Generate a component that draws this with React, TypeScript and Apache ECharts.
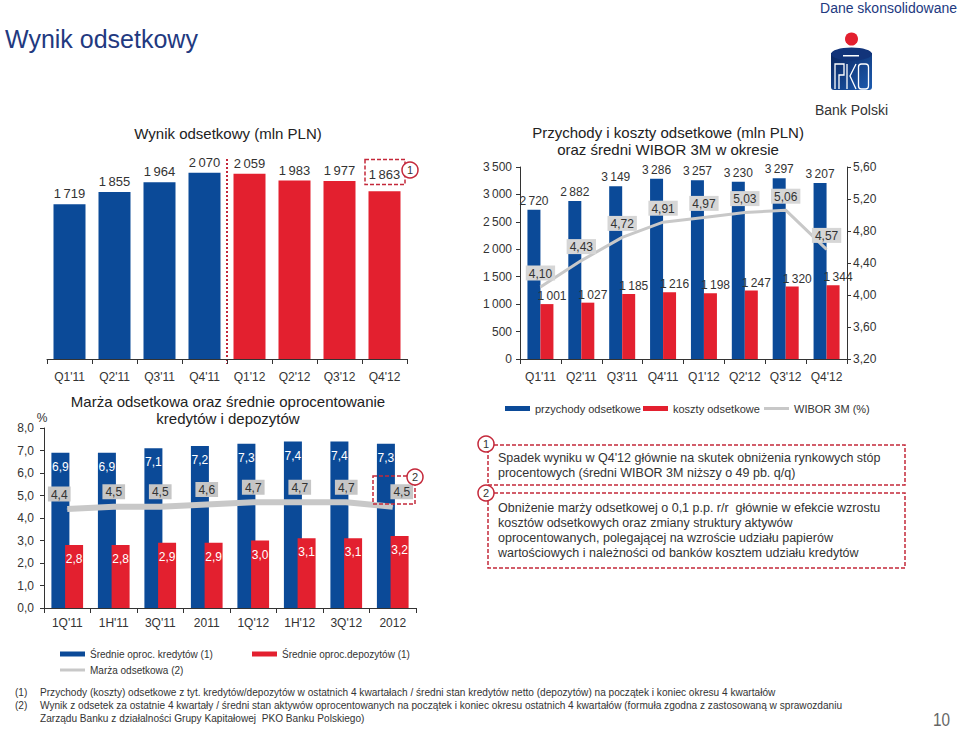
import React, { useEffect, useRef } from "react";
import * as echarts from "echarts";

// ---------- data ----------
const quarters = ["Q1'11", "Q2'11", "Q3'11", "Q4'11", "Q1'12", "Q2'12", "Q3'12", "Q4'12"];
const netInterestIncome = [1719, 1855, 1964, 2070, 2059, 1983, 1977, 1863];
const interestRevenue = [2720, 2882, 3149, 3286, 3257, 3230, 3297, 3207];
const interestCosts = [1001, 1027, 1185, 1216, 1198, 1247, 1320, 1344];
const wibor3m = [4.1, 4.43, 4.72, 4.91, 4.97, 5.03, 5.06, 4.57];

const periods = ["1Q'11", "1H'11", "3Q'11", "2011", "1Q'12", "1H'12", "3Q'12", "2012"];
const loanRate = [6.9, 6.9, 7.1, 7.2, 7.3, 7.4, 7.4, 7.3];
const depositRate = [2.8, 2.8, 2.9, 2.9, 3.0, 3.1, 3.1, 3.2];
const interestMargin = [4.4, 4.5, 4.5, 4.6, 4.7, 4.7, 4.7, 4.5];

const note1 = "Spadek wyniku w Q4'12 głównie na skutek obniżenia rynkowych stóp\nprocentowych (średni WIBOR 3M niższy o 49 pb. q/q)";
const note2 = "Obniżenie marży odsetkowej o 0,1 p.p. r/r  głównie w efekcie wzrostu\nkosztów odsetkowych oraz zmiany struktury aktywów\noprocentowanych, polegającej na wzroście udziału papierów\nwartościowych i należności od banków kosztem udziału kredytów";
const foot1 = "Przychody (koszty) odsetkowe z tyt. kredytów/depozytów w ostatnich 4 kwartałach / średni stan kredytów netto (depozytów) na początek i koniec okresu 4 kwartałów";
const foot2 = "Wynik z odsetek za ostatnie 4 kwartały / średni stan aktywów oprocentowanych na początek i koniec okresu ostatnich 4 kwartałów (formuła zgodna z zastosowaną w sprawozdaniu";
const foot3 = "Zarządu Banku z działalności Grupy Kapitałowej  PKO Banku Polskiego)";

// ---------- styles ----------
const BLUE = "#0b4a98";
const RED = "#e3202f";
const GRAY = "#c8c8c8";
const NAVY = "#22397f";
const DARK = "#333333";
const DASH = "#c4283a";
const FONT = "'Liberation Sans', Arial, sans-serif";

const thousands = (v: number) => String(v).replace(/\B(?=(\d{3})+(?!\d))/g, "\u2009");
const comma = (v: number, d: number) => v.toFixed(d).replace(".", ",");

function circleMark(cx: number, cy: number, r: number, t: string) {
  return [
    { type: "circle", shape: { cx, cy, r }, style: { fill: "#fff", stroke: DASH, lineWidth: 1.5 }, z: 10 },
    { type: "text", x: cx, y: cy, style: { text: t, align: "center", verticalAlign: "middle", fontSize: 11, fontFamily: FONT, fill: DARK }, z: 11 },
  ];
}

function legendItem(name: string, left: number, top: number, h: number, fontSize: number) {
  return {
    data: [name],
    left,
    top,
    padding: 0,
    icon: "rect",
    itemWidth: 25,
    itemHeight: h,
    itemGap: 5,
    selectedMode: false,
    textStyle: { fontSize, fontFamily: FONT, color: DARK },
  };
}

function footText(x: number, y: number, text: string) {
  return { type: "text", x, y, scaleX: 0.92, style: { text, fontSize: 11, fontFamily: FONT, fill: DARK, verticalAlign: "middle" } };
}

export default function App() {
  const ref = useRef<HTMLDivElement>(null);

  useEffect(() => {
    if (!ref.current) return;
    const chart = echarts.init(ref.current, null, { renderer: "svg" });

    const catAxis = (gridIndex: number, data: string[], margin: number) => ({
      type: "category",
      gridIndex,
      data,
      axisLine: { lineStyle: { color: DARK, width: 1 } },
      axisTick: { show: true, length: 5, lineStyle: { color: DARK } },
      axisLabel: { color: DARK, fontSize: 12, fontFamily: FONT, margin, interval: 0 },
    });

    const valAxisBase = {
      axisLine: { show: true, lineStyle: { color: DARK } },
      axisTick: { show: true, length: 4, lineStyle: { color: DARK } },
      splitLine: { show: false },
    };

    const option: any = {
      animation: false,
      backgroundColor: "#ffffff",
      textStyle: { fontFamily: FONT },
      grid: [
        { left: 47, top: 134, width: 360, height: 225 },
        { left: 520, top: 167, width: 327, height: 192 },
        { left: 44, top: 428, width: 372, height: 180 },
      ],
      xAxis: [catAxis(0, quarters, 12), catAxis(1, quarters, 12), catAxis(2, periods, 9)],
      yAxis: [
        { type: "value", gridIndex: 0, min: 0, max: 2500, show: false },
        {
          type: "value", gridIndex: 1, min: 0, max: 3500, interval: 500, position: "left", ...valAxisBase,
          axisLabel: { color: DARK, fontSize: 12, fontFamily: FONT, margin: 8, formatter: (v: number) => thousands(v) },
        },
        {
          type: "value", gridIndex: 1, min: 3.2, max: 5.6, interval: 0.4, position: "right", ...valAxisBase,
          axisLabel: { color: DARK, fontSize: 12, fontFamily: FONT, margin: 6, formatter: (v: number) => comma(v, 2) },
        },
        {
          type: "value", gridIndex: 2, min: 0, max: 8, interval: 1, ...valAxisBase,
          axisLabel: { color: DARK, fontSize: 12, fontFamily: FONT, margin: 10, formatter: (v: number) => comma(v, 1) },
        },
      ],
      legend: [
        legendItem("przychody odsetkowe", 505, 403, 5, 11),
        legendItem("koszty odsetkowe", 643, 403, 5, 11),
        legendItem("WIBOR 3M (%)", 764, 403, 3, 11),
        legendItem("Średnie oproc. kredytów (1)", 60, 649, 5, 10),
        legendItem("Średnie oproc.depozytów (1)", 252, 649, 5, 10),
        legendItem("Marża odsetkowa (2)", 60, 665, 3, 10),
      ],
      series: [
        {
          name: "Wynik odsetkowy",
          type: "bar",
          xAxisIndex: 0,
          yAxisIndex: 0,
          barWidth: 32,
          data: netInterestIncome.map((v, i) => ({
            value: v,
            itemStyle: { color: i < 4 ? BLUE : RED },
            label: i === 7 ? { distance: 10 } : undefined,
          })),
          label: { show: true, position: "top", distance: 4, color: DARK, fontSize: 13, formatter: (p: any) => thousands(p.value) },
        },
        {
          name: "przychody odsetkowe",
          type: "bar",
          xAxisIndex: 1,
          yAxisIndex: 1,
          barWidth: 13,
          barGap: "0%",
          itemStyle: { color: BLUE },
          data: interestRevenue,
          label: { show: true, position: "top", distance: 3, color: DARK, fontSize: 12, formatter: (p: any) => thousands(p.value) },
        },
        {
          name: "koszty odsetkowe",
          type: "bar",
          xAxisIndex: 1,
          yAxisIndex: 1,
          barWidth: 13,
          barGap: "0%",
          itemStyle: { color: RED },
          data: interestCosts,
          label: { show: true, position: "top", distance: 2, offset: [5, 0], color: DARK, fontSize: 12, formatter: (p: any) => thousands(p.value) },
        },
        {
          name: "WIBOR 3M (%)",
          type: "line",
          xAxisIndex: 1,
          yAxisIndex: 2,
          data: wibor3m,
          symbol: "circle",
          symbolSize: 1,
          itemStyle: { color: GRAY },
          lineStyle: { color: GRAY, width: 3 },
          z: 5,
          label: {
            show: true, position: "top", distance: 6, color: DARK, fontSize: 12,
            backgroundColor: "#d6d6d6", padding: [2, 3, 1, 3],
            formatter: (p: any) => comma(p.value, 2),
          },
        },
        {
          name: "Średnie oproc. kredytów (1)",
          type: "bar",
          xAxisIndex: 2,
          yAxisIndex: 3,
          barWidth: 18,
          barGap: "-24%",
          itemStyle: { color: BLUE },
          data: loanRate,
          label: { show: true, position: "insideTop", distance: 8, color: "#ffffff", fontSize: 12, formatter: (p: any) => comma(p.value, 1) },
        },
        {
          name: "Średnie oproc.depozytów (1)",
          type: "bar",
          xAxisIndex: 2,
          yAxisIndex: 3,
          barWidth: 18,
          barGap: "-24%",
          itemStyle: { color: RED },
          data: depositRate,
          label: { show: true, position: "insideTop", distance: 8, color: "#ffffff", fontSize: 12, formatter: (p: any) => comma(p.value, 1) },
        },
        {
          name: "Marża odsetkowa (2)",
          type: "line",
          xAxisIndex: 2,
          yAxisIndex: 3,
          data: interestMargin.map((v, i) => ({
            value: v,
            label: i === 0 ? { offset: [-8, 0] } : i === interestMargin.length - 1 ? { offset: [9, 0] } : undefined,
          })),
          symbol: "circle",
          symbolSize: 1,
          itemStyle: { color: GRAY },
          lineStyle: { color: GRAY, width: 6 },
          z: 5,
          label: {
            show: true, position: "top", distance: 7, color: DARK, fontSize: 12,
            backgroundColor: "#c6c6c6", padding: [2, 3, 1, 3],
            formatter: (p: any) => comma(p.value, 1),
          },
        },
      ],
      graphic: [
        // header
        { type: "text", x: 5, y: 39, style: { text: "Wynik odsetkowy", fontSize: 25, fontFamily: FONT, fill: NAVY, verticalAlign: "middle" } },
        { type: "text", x: 957, y: 8, style: { text: "Dane skonsolidowane", fontSize: 14, fontFamily: FONT, fill: NAVY, align: "right", verticalAlign: "middle" } },
        // logo
        { type: "circle", shape: { cx: 851.5, cy: 39, r: 6.5 }, style: { fill: RED } },
        {
          type: "rect", shape: { x: 831, y: 53, width: 41, height: 37, r: [0, 0, 3, 3] },
          style: { fill: new echarts.graphic.LinearGradient(0, 0, 1, 1, [{ offset: 0, color: "#0a2660" }, { offset: 1, color: "#1d5cb0" }]) },
        },
        { type: "ellipse", shape: { cx: 851.5, cy: 54, rx: 20.5, ry: 6.5 }, style: { fill: "#12347a" } },
        { type: "rect", shape: { x: 843, y: 55, width: 16, height: 1.5 }, style: { fill: "#ffffff" } },
        { type: "polyline", shape: { points: [[835, 89], [835, 64], [844, 64], [844, 75], [839, 75], [839, 89]] }, style: { fill: "none", stroke: "#ffffff", lineWidth: 1.3 } },
        { type: "line", shape: { x1: 847, y1: 64, x2: 847, y2: 89 }, style: { stroke: "#ffffff", lineWidth: 1.3 } },
        { type: "polyline", shape: { points: [[856, 64], [850, 76], [856, 89]] }, style: { fill: "none", stroke: "#ffffff", lineWidth: 1.3 } },
        { type: "rect", shape: { x: 858.5, y: 64, width: 10, height: 25, r: 3 }, style: { fill: "none", stroke: "#ffffff", lineWidth: 1.3 } },
        { type: "text", x: 851.5, y: 110, style: { text: "Bank Polski", fontSize: 14, fontFamily: FONT, fill: DARK, align: "center", verticalAlign: "middle" } },

        // chart titles
        { type: "text", x: 228, y: 133, style: { text: "Wynik odsetkowy (mln PLN)", fontSize: 15, fontFamily: FONT, fill: "#222", align: "center", verticalAlign: "middle" } },
        { type: "text", x: 668, y: 141, style: { text: "Przychody i koszty odsetkowe (mln PLN)\noraz średni WIBOR 3M w okresie", fontSize: 15, lineHeight: 17, fontFamily: FONT, fill: "#222", align: "center", verticalAlign: "middle" } },
        { type: "text", x: 228, y: 410, style: { text: "Marża odsetkowa oraz średnie oprocentowanie\nkredytów i depozytów", fontSize: 15, lineHeight: 17, fontFamily: FONT, fill: "#222", align: "center", verticalAlign: "middle" } },
        { type: "text", x: 42, y: 418, style: { text: "%", fontSize: 12, fontFamily: FONT, fill: DARK, align: "center", verticalAlign: "middle" } },

        // top-left annotations
        { type: "line", shape: { x1: 227, y1: 159, x2: 227, y2: 364 }, style: { stroke: DASH, lineWidth: 2, lineDash: [2, 2] } },
        { type: "rect", shape: { x: 365, y: 159.5, width: 40, height: 25 }, style: { fill: "none", stroke: DASH, lineWidth: 1.5, lineDash: [4, 2] } },
        ...circleMark(410, 170, 8, "1"),

        // bottom-left annotations
        { type: "rect", shape: { x: 373, y: 476, width: 42, height: 28 }, style: { fill: "none", stroke: DASH, lineWidth: 1.5, lineDash: [4, 2] }, z: 6 },
        ...circleMark(415, 477, 8, "2"),

        // commentary boxes
        { type: "rect", shape: { x: 488, y: 445, width: 417, height: 40 }, style: { fill: "none", stroke: DASH, lineWidth: 1.5, lineDash: [4, 2] } },
        ...circleMark(486, 444, 8, "1"),
        { type: "text", x: 498, y: 465.5, style: { text: note1, fontSize: 12.5, lineHeight: 15, fontFamily: FONT, fill: DARK, verticalAlign: "middle" } },
        { type: "rect", shape: { x: 488, y: 493, width: 417, height: 75 }, style: { fill: "none", stroke: DASH, lineWidth: 1.5, lineDash: [4, 2] } },
        ...circleMark(486, 493, 8, "2"),
        { type: "text", x: 498, y: 530.5, style: { text: note2, fontSize: 12.5, lineHeight: 15, fontFamily: FONT, fill: DARK, verticalAlign: "middle" } },

        // footnotes
        footText(15, 692, "(1)"),
        footText(40, 692, foot1),
        footText(15, 705, "(2)"),
        footText(40, 705, foot2),
        footText(40, 718, foot3),
        { type: "text", x: 950, y: 720, scaleX: 0.85, style: { text: "10", fontSize: 18, fontFamily: FONT, fill: "#666", align: "right", verticalAlign: "middle" } },
      ],
    };

    chart.setOption(option);
    return () => chart.dispose();
  }, []);

  return <div ref={ref} style={{ position: "absolute", left: 0, top: 0, width: 959, height: 729 }} />;
}
